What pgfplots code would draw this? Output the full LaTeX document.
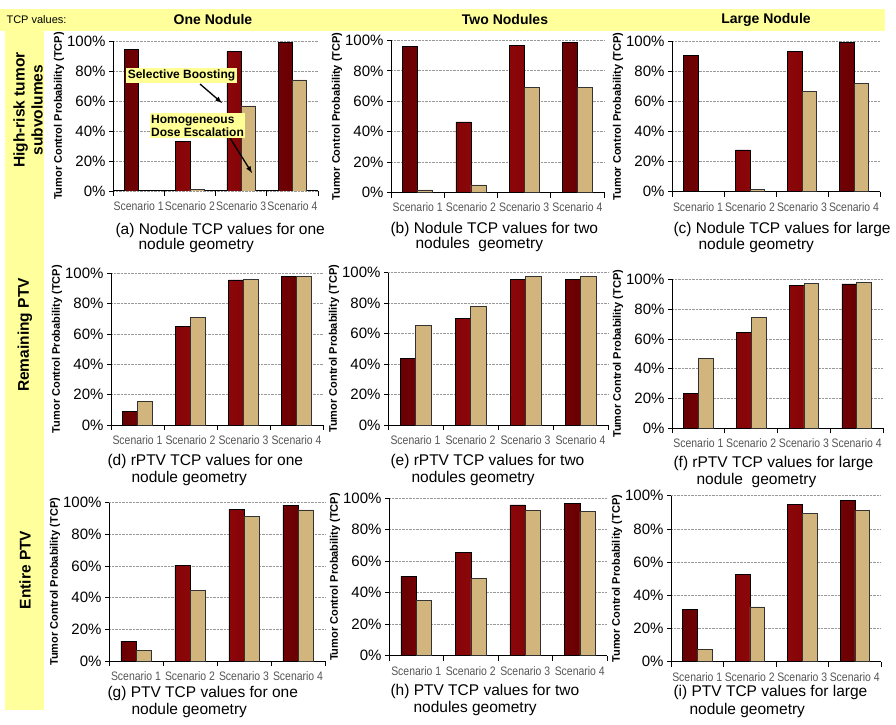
\documentclass[border=0pt]{standalone}
\usepackage{fontspec}
\setmainfont{Liberation Sans}
\newfontfamily\condfont[FakeStretch=0.85]{Liberation Sans}
\usepackage{pgfplots}
\pgfplotsset{compat=1.18}
\definecolor{bandyellow}{RGB}{255,255,155}
\definecolor{boxyellow}{RGB}{255,255,150}
\definecolor{barred}{RGB}{125,0,5}
\definecolor{barredlight}{RGB}{150,8,10}
\definecolor{barreddark}{RGB}{105,0,3}
\definecolor{bartan}{RGB}{210,180,125}
\definecolor{ticktext}{RGB}{85,85,85}
\newcommand{\capfont}{\fontsize{15.5}{17}\selectfont}
\pgfplotsset{
  tcp/.style={
    scale only axis, anchor=south west,
    ybar=0pt, bar width=0.28,
    ymin=0, ymax=100, xmin=-0.5, xmax=3.5,
    ytick={0,20,40,60,80,100},
    yticklabel={\pgfmathprintnumber{\tick}\%},
    /pgf/number format/assume math mode=true,
    xtick={0,1,2,3},
    xticklabels={Scenario 1,Scenario 2,Scenario 3,Scenario 4},
    minor xtick={-0.5,0.5,1.5,2.5,3.5},
    major x tick style={draw=none},
    minor tick length=5pt, major tick length=4pt,
    tick align=outside,
    axis lines*=left,
    axis line style={line width=1pt},
    tick style={line width=0.8pt, black},
    ymajorgrids, grid style={densely dotted, line width=0.8pt, gray!80},
    yticklabel style={font=\fontsize{15}{16}\selectfont},
    xticklabel style={font=\condfont\fontsize{12.3}{13}\selectfont, text=ticktext, yshift=-3pt},
    ylabel={Tumor Control Probability (TCP)},
    ylabel style={font=\bfseries\fontsize{11}{13}\selectfont,
      at={([xshift=-54pt]axis description cs:0,0.5)}, anchor=center},
  },
  redbar/.style={draw=black, line width=0.5pt, left color=barreddark, right color=barreddark, middle color=barredlight},
  tanbar/.style={fill=bartan, draw=black!80, line width=0.5pt},
}
\begin{document}
\begin{tikzpicture}
\useasboundingbox (0,0) rectangle (896pt,724pt);
\fill[white] (0,0) rectangle (896pt,724pt);
\fill[bandyellow] (0pt,693pt) rectangle (885pt,715pt);
\fill[bandyellow] (5pt,14pt) rectangle (44pt,715pt);
\node[anchor=west, font=\fontsize{11}{13}\selectfont] at (3pt,704pt) {TCP values:};
\node[font=\bfseries\fontsize{14}{16}\selectfont] at (213pt,704pt) {One Nodule};
\node[font=\bfseries\fontsize{14}{16}\selectfont] at (505pt,704pt) {Two Nodules};
\node[font=\bfseries\fontsize{14}{16}\selectfont] at (766pt,704pt) {Large Nodule};
\node[rotate=90, align=center, font=\bfseries\fontsize{15.5}{18}\selectfont] at (28pt,614pt) {High-risk tumor\\subvolumes};
\node[rotate=90, font=\bfseries\fontsize{15.5}{18}\selectfont] at (25pt,389pt) {Remaining PTV};
\node[rotate=90, font=\bfseries\fontsize{15.5}{18}\selectfont] at (25pt,154pt) {Entire PTV};

% (a)
\begin{axis}[tcp, at={(113pt,533pt)}, width=205pt, height=150pt]
\addplot[redbar] coordinates {(0,94.4) (1,32.9) (2,92.9) (3,98.9)};
\addplot[tanbar] coordinates {(1,1.1) (2,56.7) (3,74.0)};
\end{axis}
% (b)
\begin{axis}[tcp, at={(391pt,531.5pt)}, width=213pt, height=152pt]
\addplot[redbar] coordinates {(0,96.3) (1,46.5) (2,96.7) (3,98.9)};
\addplot[tanbar] coordinates {(0,1.7) (1,5.0) (2,69.0) (3,69.0)};
\end{axis}
% (c)
\begin{axis}[tcp, at={(672pt,532.3pt)}, width=208pt, height=150.7pt]
\addplot[redbar] coordinates {(0,90.3) (1,27.7) (2,92.9) (3,98.9)};
\addplot[tanbar] coordinates {(1,1.5) (2,66.8) (3,71.9)};
\end{axis}
% (d)
\begin{axis}[tcp, at={(111pt,299pt)}, width=212pt, height=151.7pt]
\addplot[redbar] coordinates {(0,9.2) (1,64.8) (2,95.6) (3,97.8)};
\addplot[tanbar] coordinates {(0,15.4) (1,71.0) (2,96.0) (3,97.8)};
\end{axis}
% (e)
\begin{axis}[tcp, at={(388pt,299pt)}, width=220pt, height=152.3pt]
\addplot[redbar] coordinates {(0,43.8) (1,70.0) (2,95.6) (3,95.6)};
\addplot[tanbar] coordinates {(0,65.2) (1,77.7) (2,97.4) (3,97.4)};
\end{axis}
% (f)
\begin{axis}[tcp, at={(672pt,295.7pt)}, width=211pt, height=149pt]
\addplot[redbar] coordinates {(0,23.5) (1,64.2) (2,95.7) (3,96.9)};
\addplot[tanbar] coordinates {(0,47.0) (1,74.5) (2,97.3) (3,97.8)};
\end{axis}
% (g)
\begin{axis}[tcp, at={(109pt,63pt)}, width=216pt, height=158.3pt]
\addplot[redbar] coordinates {(0,12.6) (1,60.6) (2,95.8) (3,98.5)};
\addplot[tanbar] coordinates {(0,6.9) (1,44.8) (2,91.6) (3,95.4)};
\end{axis}
% (h)
\begin{axis}[tcp, at={(389pt,68.3pt)}, width=218pt, height=157.4pt]
\addplot[redbar] coordinates {(0,50.6) (1,65.5) (2,95.8) (3,96.8)};
\addplot[tanbar] coordinates {(0,35.0) (1,49.2) (2,92.2) (3,91.5)};
\end{axis}
% (i)
\begin{axis}[tcp, at={(671pt,62.3pt)}, width=210pt, height=166pt]
\addplot[redbar] coordinates {(0,31.5) (1,52.8) (2,94.8) (3,97.0)};
\addplot[tanbar] coordinates {(0,7.6) (1,33.1) (2,89.4) (3,91.0)};
\end{axis}

% captions
\node[anchor=west, font=\capfont] at (112pt,494pt) {(a) Nodule TCP values for one};
\node[anchor=west, font=\capfont] at (135pt,479pt) {nodule geometry};
\node[anchor=west, font=\capfont] at (387pt,495pt) {(b) Nodule TCP values for two};
\node[anchor=west, font=\capfont] at (412pt,480pt) {nodules\ \ geometry};
\node[anchor=west, font=\capfont] at (670pt,495pt) {(c) Nodule TCP values for large};
\node[anchor=west, font=\capfont] at (695pt,479pt) {nodule geometry};
\node[anchor=west, font=\capfont] at (104pt,263pt) {(d) rPTV TCP values for one};
\node[anchor=west, font=\capfont] at (128pt,246pt) {nodule geometry};
\node[anchor=west, font=\capfont] at (387pt,263pt) {(e) rPTV TCP values for two};
\node[anchor=west, font=\capfont] at (408pt,246pt) {nodules geometry};
\node[anchor=west, font=\capfont] at (670pt,261pt) {(f) rPTV TCP values for large};
\node[anchor=west, font=\capfont] at (693pt,244pt) {nodule\ \ geometry};
\node[anchor=west, font=\capfont] at (104pt,31pt) {(g) PTV TCP values for one};
\node[anchor=west, font=\capfont] at (128pt,14pt) {nodule geometry};
\node[anchor=west, font=\capfont] at (387pt,33pt) {(h) PTV TCP values for two};
\node[anchor=west, font=\capfont] at (410pt,16pt) {nodules geometry};
\node[anchor=west, font=\capfont] at (670pt,32pt) {(i) PTV TCP values for large};
\node[anchor=west, font=\capfont] at (686pt,14pt) {nodule geometry};

% annotations in (a)
\draw[-latex, line width=1.3pt] (200pt,640pt) -- (222pt,621pt);
\draw[-latex, line width=1.3pt] (230pt,586pt) -- (252pt,551pt);
\node[fill=boxyellow, inner sep=1.5pt, font=\bfseries\fontsize{12}{13}\selectfont] at (181.5pt,648.5pt) {Selective Boosting};
\node[fill=boxyellow, inner sep=1.5pt, align=left, font=\bfseries\fontsize{12}{13}\selectfont] at (197.5pt,598.5pt) {Homogeneous\\Dose Escalation};
\end{tikzpicture}
\end{document}
